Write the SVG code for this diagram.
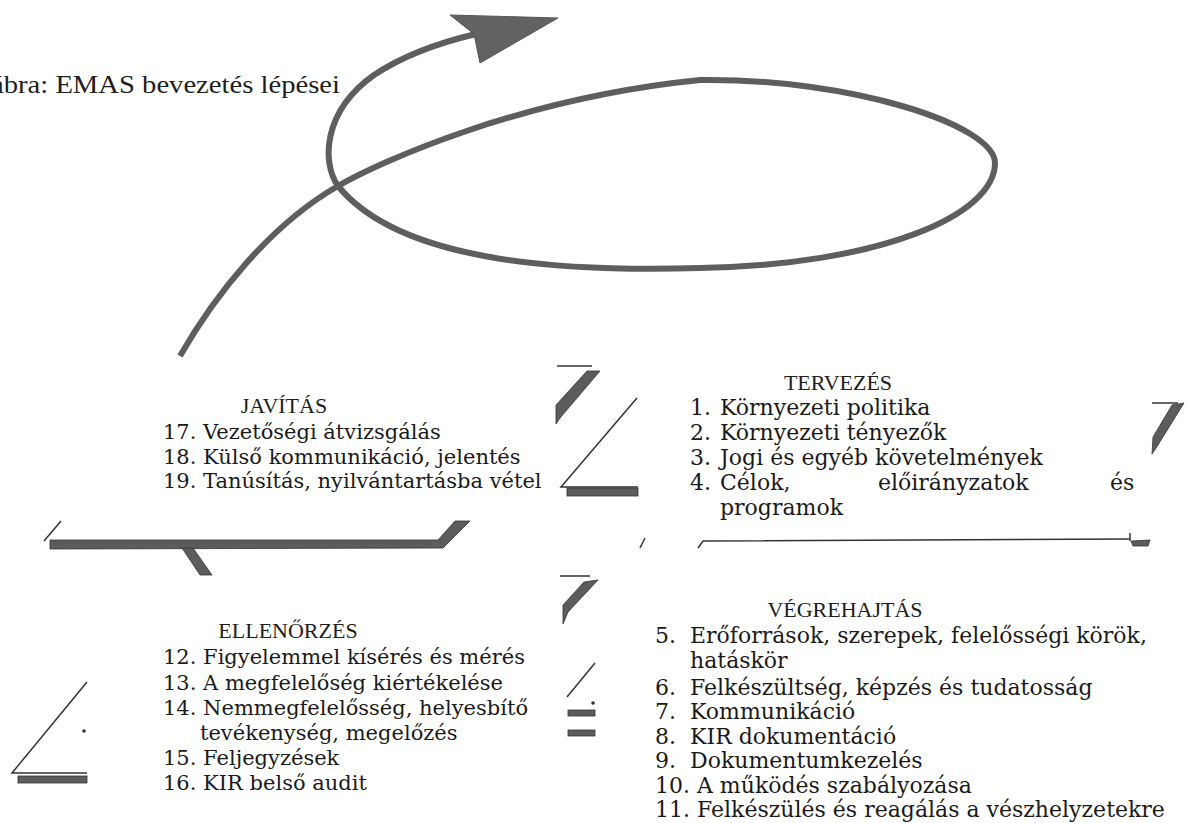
<svg xmlns="http://www.w3.org/2000/svg" width="1188" height="823" viewBox="0 0 1188 823">
<defs>
<style>
.cap{font-family:"Liberation Serif","Times New Roman",serif;font-size:25px;fill:#1e1e1e}
.hd{font-family:"Liberation Serif","Times New Roman",serif;font-size:22px;fill:#1e1e1e;text-anchor:middle}
.it{font-family:"DejaVu Serif","Liberation Serif",serif;font-size:22px;fill:#1a1a1a}
.itl{font-family:"DejaVu Serif","Liberation Serif",serif;font-size:21px;fill:#1a1a1a}
.thin{stroke:#333;stroke-width:1.5;fill:none}
.grey{fill:#5c5c5c;stroke:#333;stroke-width:0.8}
.loop{fill:none;stroke:#5e5e5e;stroke-width:6;stroke-linecap:butt}
</style>
</defs>
<rect width="1188" height="823" fill="#fff"/>
<g id="caption"><text class="cap" x="-9" y="93" textLength="349" lengthAdjust="spacingAndGlyphs">ábra: EMAS bevezetés lépései</text></g>
<g id="connectors">
<path class="loop" d="M180,356 C215,295 270,225 338,186 C380,162 520,98 700,80 C850,78 995,125 995,163 C995,215 880,265 700,268 C560,272 400,262 338,186 C322,163 322,112 374,75 C404,55 442,42 476,34"/>
<polygon points="450,15 558,18 480,63 474,34" fill="#626262" stroke="#555" stroke-width="1"/>
</g>
<g id="tervezes">
<text class="hd" x="838" y="390">TERVEZÉS</text>
<text class="it" x="690" y="415">1.</text><text class="it" x="720" y="415">Környezeti politika</text>
<text class="it" x="690" y="440">2.</text><text class="it" x="720" y="440">Környezeti tényezők</text>
<text class="it" x="690" y="465">3.</text><text class="it" x="720" y="465">Jogi és egyéb követelmények</text>
<text class="it" x="690" y="490">4.</text><text class="it" x="720" y="490">Célok,</text><text class="it" x="878" y="490">előirányzatok</text><text class="it" x="1110" y="490">és</text>
<text class="it" x="720" y="515">programok</text>
</g>
<g id="vegrehajtas">
<text class="hd" x="845" y="617">VÉGREHAJTÁS</text>
<text class="it" x="655" y="643">5.</text><text class="it" x="690" y="643">Erőforrások, szerepek, felelősségi körök,</text>
<text class="it" x="690" y="668">hatáskör</text>
<text class="it" x="655" y="695">6.</text><text class="it" x="690" y="695">Felkészültség, képzés és tudatosság</text>
<text class="it" x="655" y="719">7.</text><text class="it" x="690" y="719">Kommunikáció</text>
<text class="it" x="655" y="744">8.</text><text class="it" x="690" y="744">KIR dokumentáció</text>
<text class="it" x="655" y="768">9.</text><text class="it" x="690" y="768">Dokumentumkezelés</text>
<text class="it" x="655" y="793">10. A működés szabályozása</text>
<text class="it" x="655" y="817">11. Felkészülés és reagálás a vészhelyzetekre</text>
</g>
<g id="javitas">
<text class="hd" x="284" y="413">JAVÍTÁS</text>
<text class="itl" x="163" y="439">17. Vezetőségi átvizsgálás</text>
<text class="itl" x="163" y="464">18. Külső kommunikáció, jelentés</text>
<text class="itl" x="163" y="488">19. Tanúsítás, nyilvántartásba vétel</text>
</g>
<g id="ellenorzes">
<text class="hd" x="288" y="638">ELLENŐRZÉS</text>
<text class="itl" x="163" y="664">12. Figyelemmel kísérés és mérés</text>
<text class="itl" x="163" y="690">13. A megfelelőség kiértékelése</text>
<text class="itl" x="163" y="715">14. Nemmegfelelősség, helyesbítő</text>
<text class="itl" x="200" y="740">tevékenység, megelőzés</text>
<text class="itl" x="163" y="765">15. Feljegyzések</text>
<text class="itl" x="163" y="790">16. KIR belső audit</text>
</g>
<g id="fragments">
<line class="thin" x1="557" y1="366" x2="592" y2="366"/>
<polygon class="grey" points="587,371 600,371 560,418 556,424 556,405"/>
<polyline class="thin" points="637,398 561,487 638,487"/>
<rect class="grey" x="567" y="488" width="71" height="8"/>
<line class="thin" x1="1152" y1="403" x2="1178" y2="403"/>
<polygon class="grey" points="1172,405 1184,403 1158,445 1152,454 1153,437"/>
<line class="thin" x1="640" y1="548" x2="645" y2="538"/>
<path class="thin" d="M698,548 L703,541 L1130,539"/>
<line class="thin" x1="1130" y1="533" x2="1130" y2="541"/>
<polygon class="grey" points="1131,541 1150,540 1148,546 1133,546"/>
<line class="thin" x1="560" y1="576" x2="590" y2="576"/>
<polygon class="grey" points="584,582 598,580 568,612 563,624 563,605"/>
<line class="thin" x1="595" y1="663" x2="567" y2="697"/>
<circle cx="593" cy="703" r="1.8" fill="#333"/>
<rect class="grey" x="568" y="710" width="27" height="6"/>
<rect class="grey" x="568" y="730" width="27" height="6"/>
<polyline class="thin" points="87,682 12,773 87,773"/>
<rect class="grey" x="18" y="776" width="69" height="7"/>
<circle cx="84" cy="731" r="1.8" fill="#333"/>
<line class="thin" x1="44" y1="541" x2="61" y2="521"/>
<path class="grey" d="M50,540 L438,540 L455,521 L470,521 L443,548 L50,549 Z"/>
<polygon class="grey" points="182,548 193,548 212,575 200,575"/>
</g>
</svg>
